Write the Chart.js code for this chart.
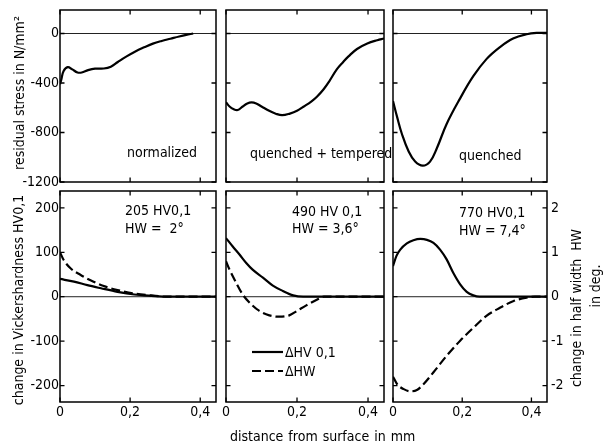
<!DOCTYPE html>
<html>
<head>
<meta charset="utf-8">
<script src="https://cdn.jsdelivr.net/npm/chart.js@4"></script>
<style>
  body { margin: 0; background: #fff; }
  #wrap {
    position: relative; width: 606px; height: 445px; overflow: hidden;
    font-family: "DejaVu Sans Condensed", "Liberation Sans Narrow", sans-serif;
    font-size: 14px; color: #000;
  }
  canvas { position: absolute; }
  .t { position: absolute; white-space: nowrap; line-height: 16px; }
  .rot { position: absolute; white-space: nowrap; line-height: 16px; transform: translate(-50%, -50%) rotate(-90deg); }
  .key { position: absolute; }
</style>
</head>
<body>
<div id="wrap">
  <canvas id="p1"></canvas>
  <canvas id="p2"></canvas>
  <canvas id="p3"></canvas>
  <canvas id="p4"></canvas>
  <canvas id="p5"></canvas>
  <canvas id="p6"></canvas>

  <div class="rot" style="left:19px; top:93px;">residual stress in N/mm²</div>
  <div class="rot" style="left:18px; top:300px;">change in Vickershardness HV0,1</div>
  <div class="rot" style="left:576px; top:308px;">change in half width&nbsp; HW</div>
  <div class="rot" style="left:595px; top:286px;">in deg.</div>
  <div class="t" style="left:230px; top:428px; word-spacing:1px;">distance from surface in mm</div>

  <div class="t" style="left:127px; top:144px;">normalized</div>
  <div class="t" style="left:250px; top:145px;">quenched + tempered</div>
  <div class="t" style="left:459px; top:147px;">quenched</div>

  <div class="t" style="left:125px; top:202px;">205 HV0,1</div>
  <div class="t" style="left:125px; top:220px;">HW = &nbsp;2°</div>
  <div class="t" style="left:292px; top:203px;">490 HV 0,1</div>
  <div class="t" style="left:292px; top:220px;">HW = 3,6°</div>
  <div class="t" style="left:459px; top:204px;">770 HV0,1</div>
  <div class="t" style="left:459px; top:222px;">HW = 7,4°</div>

  <svg class="key" style="left:252px; top:345px;" width="32" height="34">
    <line x1="0" y1="7" x2="31" y2="7" stroke="#000" stroke-width="2.2"/>
    <line x1="0" y1="26" x2="31" y2="26" stroke="#000" stroke-width="2.2" stroke-dasharray="9 4"/>
  </svg>
  <div class="t" style="left:285px; top:344px;">ΔHV 0,1</div>
  <div class="t" style="left:285px; top:363px;">ΔHW</div>
</div>

<script>
// distance axis
const X_MAX = 0.445;
const distTicks = [0, 0.2, 0.4];
const distLabels = ['0', '0,2', '0,4'];

// residual stress axis (N/mm²)
const stressTicks = [0, -400, -800, -1200];
const stressLabels = ['0', '-400', '-800', '-1200'];

// hardness change axis (HV0,1) and half width change axis (deg)
const hvTicks = [200, 100, 0, -100, -200];
const hvLabels = ['200', '100', '0', '-100', '-200'];
const hwTicks = [2, 1, 0, -1, -2];
const hwLabels = ['2', '1', '0', '-1', '-2'];

// residual stress profiles
const normX = [0, 0.004, 0.01, 0.022, 0.035, 0.05, 0.062, 0.08, 0.1, 0.125, 0.145, 0.165, 0.19, 0.215, 0.24, 0.265, 0.29, 0.315, 0.34, 0.36, 0.38];
const normStress = [-410, -370, -305, -272, -290, -315, -315, -296, -284, -283, -268, -230, -185, -145, -112, -82, -60, -42, -24, -11, 0];

const qtX = [0, 0.01, 0.022, 0.033, 0.047, 0.06, 0.072, 0.085, 0.1, 0.123, 0.14, 0.158, 0.18, 0.2, 0.218, 0.24, 0.256, 0.275, 0.29, 0.312, 0.33, 0.345, 0.369, 0.398, 0.426, 0.445];
const qtStress = [-555, -590, -612, -618, -590, -565, -557, -565, -590, -627, -648, -660, -647, -625, -592, -550, -511, -450, -390, -290, -230, -185, -125, -81, -54, -40];

const qX = [0, 0.012, 0.026, 0.045, 0.064, 0.086, 0.107, 0.127, 0.155, 0.194, 0.232, 0.27, 0.309, 0.347, 0.386, 0.415, 0.445];
const qStress = [-545, -676, -814, -952, -1035, -1068, -1035, -925, -731, -524, -345, -207, -110, -41, -6, 5, 5];

// hardness change (HV0,1)
const hv205X = [0, 0.04, 0.078, 0.117, 0.164, 0.212, 0.26, 0.31, 0.445];
const hv205 = [40, 34, 26, 19, 11, 5, 2, 0, 0];
const hv490X = [0, 0.019, 0.038, 0.057, 0.075, 0.104, 0.132, 0.16, 0.189, 0.217, 0.445];
const hv490 = [132, 113, 95, 76, 61, 43, 25, 13, 3, 0, 0];
const hv770X = [0, 0.01, 0.021, 0.04, 0.059, 0.079, 0.098, 0.117, 0.136, 0.155, 0.174, 0.194, 0.213, 0.232, 0.25, 0.445];
const hv770 = [69, 92, 106, 120, 127, 130, 128, 121, 106, 84, 54, 28, 11, 3, 0, 0];

// half width change (deg)
const hw205X = [0, 0.011, 0.03, 0.059, 0.087, 0.125, 0.164, 0.212, 0.26, 0.31, 0.445];
const hw205 = [1.0, 0.82, 0.64, 0.49, 0.37, 0.24, 0.15, 0.07, 0.03, 0, 0];
const hw490X = [0, 0.01, 0.029, 0.047, 0.071, 0.094, 0.122, 0.15, 0.178, 0.2, 0.225, 0.253, 0.276, 0.445];
const hw490 = [0.8, 0.61, 0.31, 0.05, -0.17, -0.32, -0.42, -0.45, -0.42, -0.32, -0.2, -0.08, 0, 0];
const hw770X = [0, 0.012, 0.031, 0.05, 0.069, 0.088, 0.117, 0.155, 0.194, 0.232, 0.27, 0.309, 0.347, 0.386, 0.41, 0.445];
const hw770 = [-1.8, -1.97, -2.08, -2.13, -2.1, -1.97, -1.7, -1.33, -0.99, -0.7, -0.43, -0.25, -0.1, -0.02, 0, 0];

const FONT = { family: '"DejaVu Sans Condensed", "Liberation Sans Narrow", sans-serif', size: 14 };
const pts = (xs, ys) => xs.map((x, i) => ({ x, y: ys[i] }));

// panel rectangles on the page
const cols = [[60, 216], [226, 384], [393, 547]];
const rows = [[10, 182], [191, 402]];
const MARGIN_SIDE = 45, MARGIN_TOP = 10, MARGIN_BOTTOM = 25;

// frame, zero line and inward tick marks
const framePlugin = {
  id: 'frame',
  beforeDatasetsDraw(chart) {
    const { ctx, chartArea: a, scales } = chart;
    const y0 = scales.y.getPixelForValue(0);
    ctx.save();
    ctx.strokeStyle = '#222';
    ctx.lineWidth = 1;
    ctx.beginPath();
    ctx.moveTo(a.left, y0);
    ctx.lineTo(a.right, y0);
    ctx.stroke();
    ctx.restore();
  },
  afterDatasetsDraw(chart, args, opts) {
    const { ctx, chartArea: a, scales } = chart;
    const len = 4.5;
    ctx.save();
    ctx.strokeStyle = '#000';
    ctx.lineWidth = 1.5;
    ctx.strokeRect(a.left, a.top, a.right - a.left, a.bottom - a.top);
    ctx.lineWidth = 1.3;
    ctx.beginPath();
    opts.xTicks.forEach(v => {
      const px = scales.x.getPixelForValue(v);
      ctx.moveTo(px, a.top); ctx.lineTo(px, a.top + len);
      ctx.moveTo(px, a.bottom); ctx.lineTo(px, a.bottom - len);
    });
    opts.yTicks.forEach(v => {
      const py = scales.y.getPixelForValue(v);
      ctx.moveTo(a.left, py); ctx.lineTo(a.left + len, py);
      ctx.moveTo(a.right, py); ctx.lineTo(a.right - len, py);
    });
    ctx.stroke();
    ctx.restore();
  }
};

function fixSize(prop, size) {
  return s => {
    s[prop] = size;
    s.paddingLeft = s.paddingRight = s.paddingTop = s.paddingBottom = 0;
  };
}

function axis(opts) {
  return {
    type: 'linear',
    min: opts.min,
    max: opts.max,
    position: opts.position,
    afterBuildTicks: s => { s.ticks = opts.ticks.map(v => ({ value: v })); },
    afterFit: fixSize(opts.position === 'bottom' ? 'height' : 'width', opts.size),
    ticks: {
      display: opts.show,
      callback: (v, i) => opts.labels[i],
      autoSkip: false,
      maxRotation: 0,
      padding: opts.padding,
      color: '#000',
      font: FONT
    },
    grid: { display: false, drawTicks: false },
    border: { display: false }
  };
}

// stress curves use a plain bezier, the hardness/half width curves a monotone one
function stress(data) {
  return { data, borderColor: '#000', borderWidth: 2.2, pointRadius: 0, fill: false,
           tension: 0.4, yAxisID: 'y' };
}
function solid(data) {
  return { data, borderColor: '#000', borderWidth: 2.2, pointRadius: 0, fill: false,
           cubicInterpolationMode: 'monotone', yAxisID: 'y' };
}
function dashed(data) {
  return { data, borderColor: '#000', borderWidth: 2.2, pointRadius: 0, fill: false,
           borderDash: [9, 4], cubicInterpolationMode: 'monotone', yAxisID: 'y2' };
}

function makePanel(id, col, row, datasets) {
  const [l, r] = cols[col];
  const [t, b] = rows[row];
  const cv = document.getElementById(id);
  cv.width = r - l + 2 * MARGIN_SIDE;
  cv.height = b - t + MARGIN_TOP + MARGIN_BOTTOM;
  cv.style.left = (l - MARGIN_SIDE) + 'px';
  cv.style.top = (t - MARGIN_TOP) + 'px';

  const scales = {
    x: axis({ min: 0, max: X_MAX, position: 'bottom', ticks: distTicks, labels: distLabels,
              show: row === 1, size: MARGIN_BOTTOM, padding: 2 })
  };
  if (row === 0) {
    scales.y = axis({ min: -1200, max: 190, position: 'left', ticks: stressTicks, labels: stressLabels,
                      show: col === 0, size: MARGIN_SIDE, padding: 1 });
  } else {
    scales.y = axis({ min: -237, max: 238, position: 'left', ticks: hvTicks, labels: hvLabels,
                      show: col === 0, size: MARGIN_SIDE, padding: 1 });
    scales.y2 = axis({ min: -2.37, max: 2.38, position: 'right', ticks: hwTicks, labels: hwLabels,
                       show: col === 2, size: MARGIN_SIDE, padding: 4 });
  }

  new Chart(cv, {
    type: 'line',
    data: { datasets },
    options: {
      responsive: false,
      animation: false,
      events: [],
      layout: { padding: { top: MARGIN_TOP, right: row === 0 ? MARGIN_SIDE : 0, left: 0, bottom: 0 } },
      scales,
      plugins: {
        legend: { display: false },
        tooltip: { enabled: false },
        frame: { xTicks: distTicks, yTicks: row === 0 ? stressTicks : hvTicks }
      }
    },
    plugins: [framePlugin]
  });
}

makePanel('p1', 0, 0, [stress(pts(normX, normStress))]);
makePanel('p2', 1, 0, [stress(pts(qtX, qtStress))]);
makePanel('p3', 2, 0, [stress(pts(qX, qStress))]);
makePanel('p4', 0, 1, [solid(pts(hv205X, hv205)), dashed(pts(hw205X, hw205))]);
makePanel('p5', 1, 1, [solid(pts(hv490X, hv490)), dashed(pts(hw490X, hw490))]);
makePanel('p6', 2, 1, [solid(pts(hv770X, hv770)), dashed(pts(hw770X, hw770))]);
</script>
</body>
</html>
